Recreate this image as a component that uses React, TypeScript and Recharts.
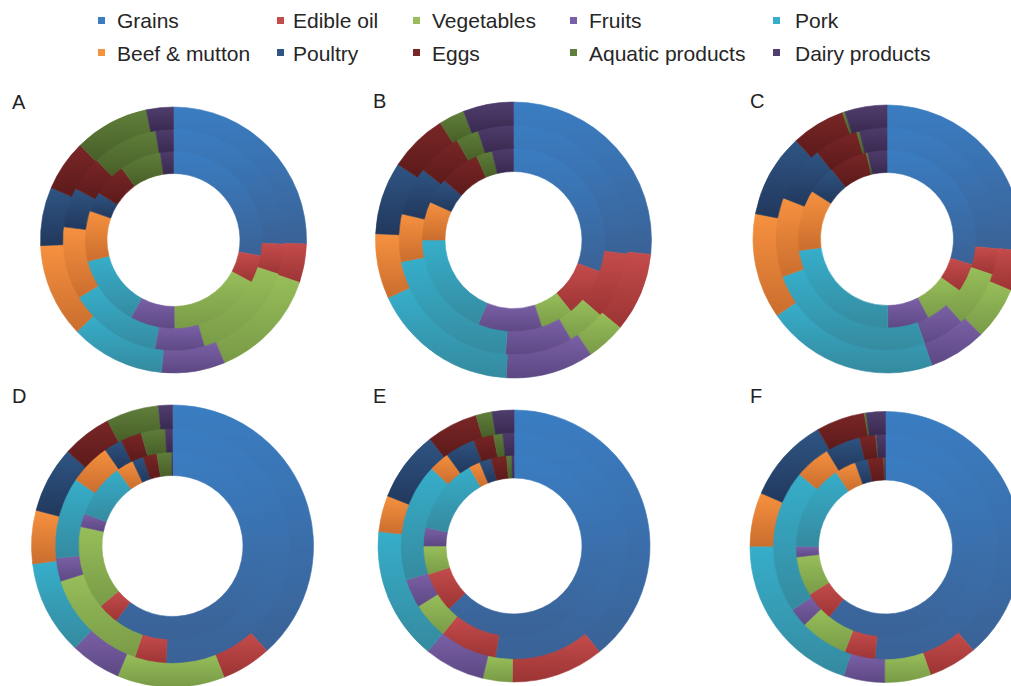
import React from 'react';
import { PieChart, Pie, Cell } from 'recharts';

const categories = ['Grains', 'Edible oil', 'Vegetables', 'Fruits', 'Pork', 'Beef & mutton', 'Poultry', 'Eggs', 'Aquatic products', 'Dairy products'];
const colorTop = ['#3A7DC2', '#C44B4B', '#97BE5A', '#7A60A6', '#36AECA', '#F6913F', '#2E5583', '#7A2626', '#607F3B', '#4F3D6D'];
const colorBottom = ['#3A6296', '#9C3434', '#789A46', '#5C4883', '#358A9F', '#CA6D2E', '#22385D', '#5C1A1A', '#485F28', '#392A50'];
const panelLabels = ['A', 'B', 'C', 'D', 'E', 'F'];

// shares (%) for inner, middle and outer rings of each panel
const aInner = [27.8, 5.0, 16.9, 8.1, 13.1, 9.2, 3.6, 6.1, 7.5, 2.4];
const aMiddle = [25.6, 4.4, 15.5, 7.2, 13.6, 10.6, 5.8, 5.1, 9.6, 2.6];
const aOuter = [25.5, 4.7, 13.6, 7.7, 11.5, 11.4, 7.1, 6.2, 9.1, 3.3];

const bInner = [30.6, 8.6, 5.8, 11.3, 18.7, 6.8, 4.5, 7.1, 2.8, 3.8];
const bMiddle = [26.9, 9.4, 5.3, 9.4, 20.8, 6.7, 6.8, 6.3, 3.2, 5.0];
const bOuter = [26.7, 9.3, 4.6, 10.3, 17.3, 7.6, 8.5, 6.9, 3.0, 5.9];

const cInner = [29.7, 5.2, 7.5, 7.5, 23.1, 11.1, 5.3, 6.9, 0.3, 3.5];
const cMiddle = [26.4, 3.8, 8.2, 6.1, 25.0, 11.5, 8.2, 6.4, 0.4, 4.0];
const cOuter = [26.4, 4.9, 6.4, 6.9, 20.8, 12.7, 10.1, 6.5, 0.3, 5.1];

const dInner = [60.3, 3.6, 14.4, 2.3, 9.4, 3.0, 1.9, 2.4, 2.6, 0.1];
const dMiddle = [50.8, 4.3, 14.9, 3.2, 11.2, 5.7, 2.5, 2.9, 3.3, 1.0];
const dOuter = [38.3, 5.7, 12.3, 5.8, 10.8, 6.1, 7.6, 5.7, 6.0, 1.6];

const eInner = [62.8, 7.1, 5.1, 3.3, 13.5, 2.0, 2.1, 2.8, 0.9, 0.4];
const eMiddle = [52.7, 8.2, 5.2, 4.1, 16.9, 2.9, 4.3, 2.9, 1.3, 1.6];
const eOuter = [39.2, 11.0, 3.5, 7.2, 15.8, 4.3, 8.4, 6.1, 1.9, 2.6];

const fInner = [60.8, 5.3, 7.1, 1.9, 15.6, 3.8, 2.3, 2.9, 0.1, 0.2];
const fMiddle = [51.4, 4.4, 6.9, 2.7, 20.6, 5.1, 5.0, 2.3, 0.1, 1.3];
const fOuter = [38.8, 5.8, 5.5, 4.9, 20.1, 6.4, 10.2, 5.8, 0.2, 2.3];

const panelRings = [
  [aInner, aMiddle, aOuter],
  [bInner, bMiddle, bOuter],
  [cInner, cMiddle, cOuter],
  [dInner, dMiddle, dOuter],
  [eInner, eMiddle, eOuter],
  [fInner, fMiddle, fOuter],
];

// layout (pixels)
const layout = [
  { cx: 173.5, cy: 240, r0: 66.5, r1: 133, lx: 12, ly: 92 },
  { cx: 513.5, cy: 240, r0: 68.5, r1: 138, lx: 373, ly: 91 },
  { cx: 887, cy: 239, r0: 66.5, r1: 134, lx: 750, ly: 91 },
  { cx: 172.5, cy: 546, r0: 70.5, r1: 141, lx: 12, ly: 386 },
  { cx: 514, cy: 546, r0: 68, r1: 136, lx: 373, ly: 386 },
  { cx: 885.5, cy: 547, r0: 67, r1: 135.5, lx: 750, ly: 386 },
];

const legendCols = [
  { mx: 98, tx: 117 },
  { mx: 277, tx: 293 },
  { mx: 413, tx: 432 },
  { mx: 570, tx: 589 },
  { mx: 773, tx: 795 },
];
const legendRows = [20, 52.5];

const font = '"Liberation Sans", Arial, sans-serif';

export default function App() {
  return (
    <div style={{ position: 'absolute', left: 0, top: 0, width: 1011, height: 686, background: '#fff', overflow: 'hidden' }}>
      <svg width={0} height={0} style={{ position: 'absolute' }}>
        <defs>
          {categories.map((c, i) => (
            <linearGradient key={c} id={`g${i}`} x1="0" y1="0" x2="0" y2="1">
              <stop offset="0%" stopColor={colorTop[i]} />
              <stop offset="100%" stopColor={colorBottom[i]} />
            </linearGradient>
          ))}
        </defs>
      </svg>
      <div style={{ position: 'absolute', left: 0, top: 0 }}>
        <PieChart width={1011} height={686} margin={{ top: 0, right: 0, bottom: 0, left: 0 }}>
          {panelRings.map((rings, p) =>
            rings.map((vals, r) => {
              const L = layout[p];
              const w = (L.r1 - L.r0) / 3;
              const data = categories.map((c, i) => ({ name: c, value: vals[i] }));
              return (
                <Pie
                  key={`${p}-${r}`}
                  data={data}
                  dataKey="value"
                  nameKey="name"
                  cx={L.cx}
                  cy={L.cy}
                  innerRadius={L.r0 + w * r}
                  outerRadius={L.r0 + w * (r + 1) + (r < 2 ? 1.5 : 0)}
                  startAngle={90}
                  endAngle={-270}
                  paddingAngle={0}
                  stroke="none"
                  isAnimationActive={false}
                  label={false}
                  labelLine={false}
                >
                  {data.map((d, i) => (
                    <Cell key={d.name} fill={`url(#g${i})`} stroke={`url(#g${i})`} strokeWidth={0.6} />
                  ))}
                </Pie>
              );
            })
          )}
        </PieChart>
      </div>
      {panelLabels.map((t, p) => (
        <div
          key={t}
          style={{ position: 'absolute', left: layout[p].lx, top: layout[p].ly, fontFamily: font, fontSize: 20, lineHeight: '20px', color: '#222' }}
        >
          {t}
        </div>
      ))}
      {categories.map((c, i) => {
        const col = legendCols[i % 5];
        const cy = legendRows[Math.floor(i / 5)];
        return (
          <React.Fragment key={c}>
            <div style={{ position: 'absolute', left: col.mx, top: cy - 3.5, width: 7, height: 7, background: colorTop[i] }} />
            <div style={{ position: 'absolute', left: col.tx, top: cy - 10, fontFamily: font, fontSize: 21, lineHeight: '21px', color: '#262626', whiteSpace: 'nowrap' }}>
              {c}
            </div>
          </React.Fragment>
        );
      })}
    </div>
  );
}
